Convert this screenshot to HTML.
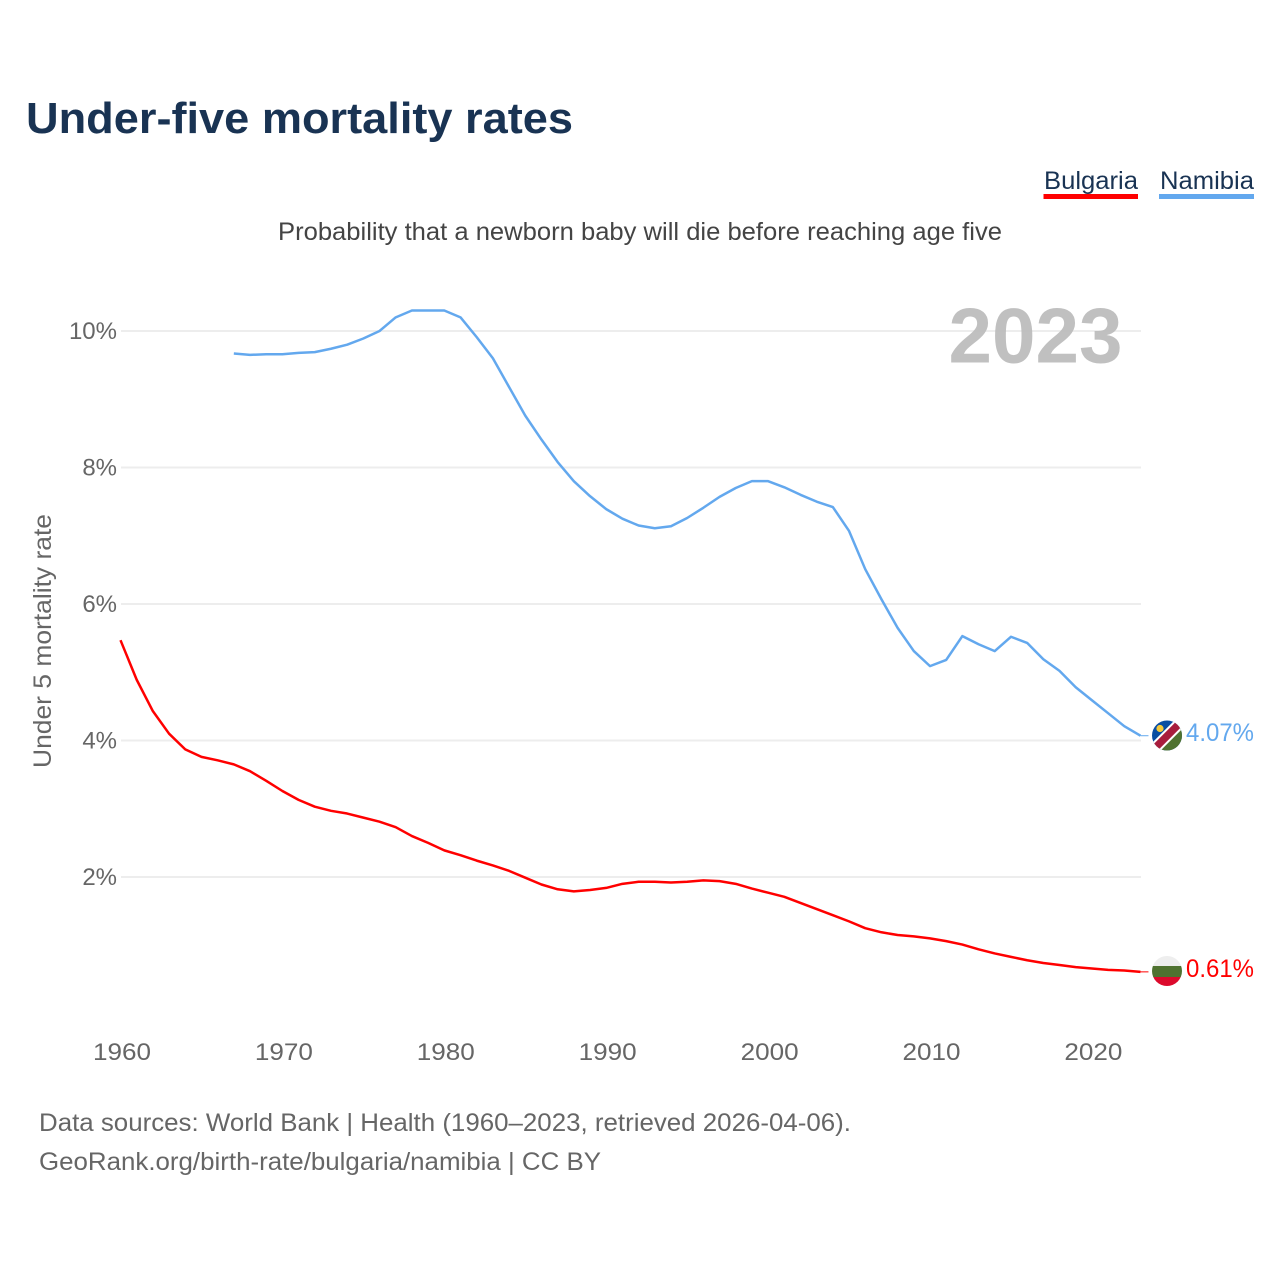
<!DOCTYPE html>
<html lang="en">
<head>
<meta charset="utf-8">
<title>Under-five mortality rates</title>
<style>
html,body{margin:0;padding:0;background:#fff;width:1280px;height:1280px;overflow:hidden}
svg{display:block}
text{font-family:"Liberation Sans",Arial,sans-serif}
</style>
</head>
<body>
<svg id="chart" xmlns="http://www.w3.org/2000/svg" width="1280" height="1280" viewBox="0 0 1280 1280">
  <defs>
    <clipPath id="clip-nam"><circle cx="1167" cy="735.5" r="15"/></clipPath>
    <clipPath id="clip-bul"><circle cx="1167" cy="971" r="15"/></clipPath>
  </defs>
  <rect width="1280" height="1280" fill="#fff"/>
  <text x="26" y="133" font-size="44" font-weight="700" fill="#193353" textLength="547" lengthAdjust="spacingAndGlyphs">Under-five mortality rates</text>
  <g>
    <g>
      <text x="1044" y="189" font-size="25" fill="#193353" textLength="94" lengthAdjust="spacingAndGlyphs">Bulgaria</text>
      <rect x="1043.5" y="194" width="94.5" height="5" fill="#ff0000"/>
    </g>
    <g>
      <text x="1160" y="189" font-size="25" fill="#193353" textLength="94" lengthAdjust="spacingAndGlyphs">Namibia</text>
      <rect x="1159" y="194" width="95" height="5" fill="#63a8ee"/>
    </g>
  </g>
  <text x="278" y="240" font-size="25" fill="#444" textLength="724" lengthAdjust="spacingAndGlyphs">Probability that a newborn baby will die before reaching age five</text>
  <text x="948.5" y="362.5" font-size="78" font-weight="700" fill="#c0c0c0" textLength="174" lengthAdjust="spacingAndGlyphs">2023</text>
  <g id="grid"></g>
  <g id="y-axis"></g>
  <g id="x-axis"></g>
  <text transform="translate(51,768) rotate(-90)" x="0" y="0" font-size="25" fill="#666" textLength="254" lengthAdjust="spacingAndGlyphs">Under 5 mortality rate</text>
  <g id="series"></g>
  <g clip-path="url(#clip-nam)">
    <rect x="1152" y="720" width="30" height="31" fill="#0a4ea2"/>
    <polygon points="1152,751 1182,751 1182,720" fill="#4f7230"/>
    <line x1="1150" y1="753" x2="1184" y2="719" stroke="#fff" stroke-width="11.5"/>
    <line x1="1150" y1="753" x2="1184" y2="719" stroke="#a81d3d" stroke-width="7.5"/>
    <circle cx="1160" cy="728.5" r="3.6" fill="#f5c93a"/>
  </g>
  <g clip-path="url(#clip-bul)">
    <rect x="1152" y="956" width="30" height="10" fill="#eeeeee"/>
    <rect x="1152" y="966" width="30" height="11" fill="#4f7230"/>
    <rect x="1152" y="977" width="30" height="10" fill="#dc0a2c"/>
  </g>
  <text id="value-nam" x="1186" y="741" font-size="25" fill="#63a8ee" textLength="68" lengthAdjust="spacingAndGlyphs">4.07%</text>
  <text id="value-bul" x="1186" y="977" font-size="25" fill="#ff0000" textLength="68" lengthAdjust="spacingAndGlyphs">0.61%</text>
  <text x="39" y="1131" font-size="25" fill="#666" textLength="812" lengthAdjust="spacingAndGlyphs">Data sources: World Bank | Health (1960–2023, retrieved 2026-04-06).</text>
  <text x="39" y="1170" font-size="25" fill="#666" textLength="562" lengthAdjust="spacingAndGlyphs">GeoRank.org/birth-rate/bulgaria/namibia | CC BY</text>
</svg>
<script>
const yTicks = [2, 4, 6, 8, 10];
const xTicks = [1960, 1970, 1980, 1990, 2000, 2010, 2020];
const bulgariaStartYear = 1960;
const bulgariaValues = [5.47,4.89,4.43,4.10,3.87,3.76,3.71,3.65,3.55,3.41,3.26,3.13,3.03,2.97,2.93,2.87,2.81,2.73,2.60,2.50,2.39,2.32,2.24,2.17,2.09,1.99,1.89,1.82,1.79,1.81,1.84,1.90,1.93,1.93,1.92,1.93,1.95,1.94,1.90,1.83,1.77,1.71,1.62,1.53,1.44,1.35,1.25,1.19,1.15,1.13,1.10,1.06,1.01,0.94,0.88,0.83,0.78,0.74,0.71,0.68,0.66,0.64,0.63,0.61];
const namibiaStartYear = 1967;
const namibiaValues = [9.67,9.65,9.66,9.66,9.68,9.69,9.74,9.80,9.89,10.0,10.2,10.3,10.3,10.3,10.2,9.91,9.6,9.18,8.76,8.41,8.08,7.8,7.58,7.39,7.25,7.15,7.11,7.14,7.26,7.41,7.57,7.7,7.8,7.8,7.71,7.6,7.5,7.42,7.07,6.51,6.07,5.65,5.31,5.09,5.18,5.53,5.41,5.31,5.52,5.43,5.19,5.02,4.78,4.59,4.40,4.21,4.07];

const NS = 'http://www.w3.org/2000/svg';
const xScale = function (year) { return 120.5 + (year - 1960) * 16.19; };
const yScale = function (v) { return 1013.5 - v * 68.25; };

const gridGroup = document.getElementById('grid');
const yAxisGroup = document.getElementById('y-axis');
const xAxisGroup = document.getElementById('x-axis');
const seriesGroup = document.getElementById('series');

yTicks.forEach(function (t) {
  const line = document.createElementNS(NS, 'line');
  
  
  line.setAttribute('x1', 121);
  line.setAttribute('x2', 1141);
  line.setAttribute('y1', yScale(t));
  line.setAttribute('y2', yScale(t));
  line.setAttribute('stroke', 'rgba(190,190,190,0.27)');
  line.setAttribute('stroke-width', 2);
  gridGroup.appendChild(line);

  const label = document.createElementNS(NS, 'text');
  
  
  label.setAttribute('x', 117);
  label.setAttribute('y', yScale(t) + 8);
  label.setAttribute('text-anchor', 'end');
  label.setAttribute('font-size', 24);
  label.setAttribute('fill', '#666');
  label.textContent = t + '%';
  yAxisGroup.appendChild(label);
});

xTicks.forEach(function (t) {
  const label = document.createElementNS(NS, 'text');
  
  
  label.setAttribute('x', xScale(t) + 1.5);
  label.setAttribute('y', 1060);
  label.setAttribute('text-anchor', 'middle');
  label.setAttribute('font-size', 24);
  label.setAttribute('fill', '#666');
  label.setAttribute('textLength', 58);
  label.setAttribute('lengthAdjust', 'spacingAndGlyphs');
  label.textContent = t;
  xAxisGroup.appendChild(label);
});

function pointsFor(startYear, values) {
  return values.map(function (v, i) {
    return xScale(startYear + i).toFixed(2) + ',' + yScale(v).toFixed(2);
  });
}

const bulgariaPts = pointsFor(bulgariaStartYear, bulgariaValues);
const bulgariaLine = document.createElementNS(NS, 'polyline');


bulgariaLine.setAttribute('points', bulgariaPts.join(' '));
bulgariaLine.setAttribute('fill', 'none');
bulgariaLine.setAttribute('stroke', '#ff0000');
bulgariaLine.setAttribute('stroke-width', 2.5);
bulgariaLine.setAttribute('stroke-linejoin', 'round');
seriesGroup.appendChild(bulgariaLine);

const namibiaPts = pointsFor(namibiaStartYear, namibiaValues);
const namibiaLine = document.createElementNS(NS, 'polyline');


namibiaLine.setAttribute('points', namibiaPts.join(' '));
namibiaLine.setAttribute('fill', 'none');
namibiaLine.setAttribute('stroke', '#63a8ee');
namibiaLine.setAttribute('stroke-width', 2.5);
namibiaLine.setAttribute('stroke-linejoin', 'round');
seriesGroup.appendChild(namibiaLine);

const bulgariaLast = bulgariaValues[bulgariaValues.length - 1];
const bulgariaLeader = document.createElementNS(NS, 'line');


bulgariaLeader.setAttribute('x1', xScale(2023));
bulgariaLeader.setAttribute('x2', xScale(2023) + 8);
bulgariaLeader.setAttribute('y1', yScale(bulgariaLast));
bulgariaLeader.setAttribute('y2', yScale(bulgariaLast));
bulgariaLeader.setAttribute('stroke', '#ff0000');
bulgariaLeader.setAttribute('stroke-width', 1);
seriesGroup.appendChild(bulgariaLeader);

const namibiaLast = namibiaValues[namibiaValues.length - 1];
const namibiaLeader = document.createElementNS(NS, 'line');


namibiaLeader.setAttribute('x1', xScale(2023));
namibiaLeader.setAttribute('x2', xScale(2023) + 8);
namibiaLeader.setAttribute('y1', yScale(namibiaLast));
namibiaLeader.setAttribute('y2', yScale(namibiaLast));
namibiaLeader.setAttribute('stroke', '#63a8ee');
namibiaLeader.setAttribute('stroke-width', 1);
seriesGroup.appendChild(namibiaLeader);
</script>
</body>
</html>
